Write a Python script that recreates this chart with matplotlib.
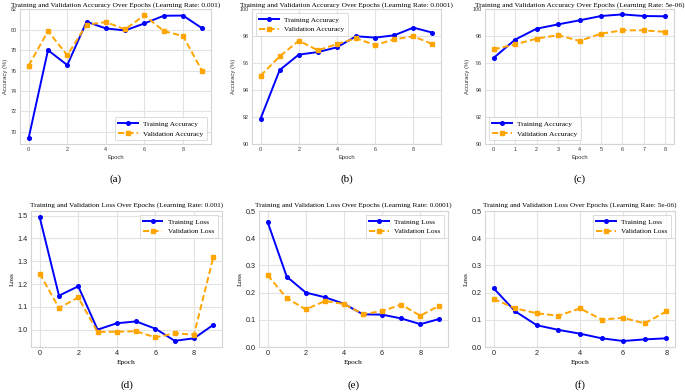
import matplotlib
matplotlib.use("Agg")
import matplotlib.pyplot as plt

# ---------------- data ----------------
epochs10 = list(range(10))
epochs9 = list(range(9))

acc_a_train = [69.41, 78.0, 76.54, 80.78, 80.13, 79.93, 80.62, 81.37, 81.39, 80.13]
acc_a_val = [76.49, 79.87, 77.5, 80.49, 80.75, 80.03, 81.43, 79.87, 79.38, 75.93]

acc_b_train = [91.88, 95.48, 96.62, 96.81, 97.16, 97.98, 97.88, 98.05, 98.62, 98.25]
acc_b_val = [95.06, 96.49, 97.65, 96.94, 97.4, 97.83, 97.33, 97.75, 97.98, 97.4]

acc_c_train = [96.37, 97.73, 98.54, 98.86, 99.16, 99.48, 99.6, 99.48, 99.46]
acc_c_val = [97.01, 97.38, 97.8, 98.07, 97.63, 98.17, 98.42, 98.42, 98.3]

loss_d_train = [1.493, 1.149, 1.19, 1.0, 1.028, 1.036, 1.004, 0.951, 0.962, 1.021]
loss_d_val = [1.246, 1.095, 1.141, 0.99, 0.991, 0.993, 0.966, 0.984, 0.978, 1.318]

loss_e_train = [0.46, 0.259, 0.2, 0.183, 0.159, 0.12, 0.119, 0.105, 0.084, 0.103]
loss_e_val = [0.264, 0.18, 0.138, 0.169, 0.158, 0.121, 0.132, 0.156, 0.115, 0.152]

loss_f_train = [0.216, 0.131, 0.08, 0.063, 0.049, 0.032, 0.022, 0.028, 0.032]
loss_f_val = [0.177, 0.142, 0.124, 0.115, 0.142, 0.101, 0.107, 0.087, 0.131]

lrs = ["0.001", "0.0001", "5e-06"]
panel_letters = ["(a)", "(b)", "(c)", "(d)", "(e)", "(f)"]

# ---------------- figure ----------------
W, H = 685, 392
fig = plt.figure(figsize=(W / 100, H / 100), dpi=100)
fig.patch.set_facecolor("white")

SERIF = ["Liberation Serif", "DejaVu Serif"]
SANS = ["Liberation Sans", "DejaVu Sans"]
GRID = "#e3e3e3"
SPINE = "#d5d5d5"
BLUE = "blue"
ORANGE = "#FFA500"


def px_axes(l, t, r, b):
    return fig.add_axes([l / W, 1 - b / H, (r - l) / W, (b - t) / H])


def style(ax, tick_fs, tick_family, tick_color):
    ax.set_facecolor("white")
    ax.grid(True, color=GRID, linewidth=0.8)
    ax.set_axisbelow(True)
    for s in ax.spines.values():
        s.set_color(SPINE)
        s.set_linewidth(0.8)
    ax.tick_params(axis="both", length=0, labelsize=tick_fs, colors=tick_color, pad=2.5)
    for lab in ax.get_xticklabels() + ax.get_yticklabels():
        lab.set_family(tick_family)


top_boxes = [(20, 9, 211, 144), (252, 9, 441, 144), (485, 9, 674, 144)]
bot_boxes = [(31, 211, 222, 347), (259, 211, 448, 347), (485, 211, 675, 347)]

acc_data = [(epochs10, acc_a_train, acc_a_val), (epochs10, acc_b_train, acc_b_val),
            (epochs9, acc_c_train, acc_c_val)]
loss_data = [(epochs10, loss_d_train, loss_d_val), (epochs10, loss_e_train, loss_e_val),
             (epochs9, loss_f_train, loss_f_val)]
acc_legend_loc = ["lower right", "upper left", "lower left"]

for i, (box, (ep, tr, va)) in enumerate(zip(top_boxes, acc_data)):
    ax = px_axes(*box)
    ax.plot(ep, tr, color=BLUE, marker="o", markersize=2.6, linewidth=1.4,
            label="Training Accuracy")
    ax.plot(ep, va, color=ORANGE, marker="s", markersize=2.6, linewidth=1.4,
            linestyle="--", dashes=(3.2, 1.6), label="Validation Accuracy")
    if i == 2:
        ax.set_xticks(ep)
    else:
        ax.set_xticks([0, 2, 4, 6, 8])
    if i == 0:
        ax.set_yticks([70, 72, 74, 76, 78, 80, 82])
    else:
        ax.set_ylim(90, 100)
        ax.set_yticks([90, 92, 94, 96, 98, 100])
    style(ax, 3.9, SANS, "#333333")
    ax.set_xlabel("Epoch", fontsize=4.2, family=SANS, color="#333333", labelpad=2)
    ax.set_ylabel("Accuracy (%)", fontsize=4.2, family=SANS, color="#333333", labelpad=2)
    ax.set_title(f"Training and Validation Accuracy Over Epochs (Learning Rate: {lrs[i]})",
                 fontsize=5.3, family=SERIF, pad=2)
    leg = ax.legend(loc=acc_legend_loc[i], prop={"family": SERIF, "size": 5.3},
                    frameon=True, fancybox=True, handlelength=2.6, borderpad=0.5,
                    labelspacing=0.5)
    leg.get_frame().set_edgecolor("#cccccc")
    leg.get_frame().set_linewidth(0.6)
    cx = (box[0] + box[2]) / 2
    fig.text(cx / W, 1 - 179 / H, panel_letters[i], ha="center", va="center",
             fontsize=8, family=SERIF)

for i, (box, (ep, tr, va)) in enumerate(zip(bot_boxes, loss_data)):
    ax = px_axes(*box)
    ax.plot(ep, tr, color=BLUE, marker="o", markersize=2.6, linewidth=1.4,
            label="Training Loss")
    ax.plot(ep, va, color=ORANGE, marker="s", markersize=2.6, linewidth=1.4,
            linestyle="--", dashes=(3.2, 1.6), label="Validation Loss")
    ax.set_xticks([0, 2, 4, 6, 8])
    if i == 0:
        ax.set_yticks([1.0, 1.1, 1.2, 1.3, 1.4, 1.5])
    else:
        ax.set_ylim(0, 0.5)
        ax.set_yticks([0.0, 0.1, 0.2, 0.3, 0.4, 0.5])
    style(ax, 5.2, SANS, "#222222")
    ax.set_xlabel("Epoch", fontsize=5.3, family=SERIF, labelpad=1.5)
    ax.set_ylabel("Loss", fontsize=5.3, family=SERIF, labelpad=2)
    ax.set_title(f"Training and Validation Loss Over Epochs (Learning Rate: {lrs[i]})",
                 fontsize=5.2, family=SERIF, pad=3)
    leg = ax.legend(loc="upper right", prop={"family": SERIF, "size": 5.3},
                    frameon=True, fancybox=False, handlelength=2.6, borderpad=0.5,
                    labelspacing=0.5)
    leg.get_frame().set_edgecolor("#cccccc")
    leg.get_frame().set_linewidth(0.6)
    cx = (box[0] + box[2]) / 2
    fig.text(cx / W, 1 - 385 / H, panel_letters[3 + i], ha="center", va="center",
             fontsize=8, family=SERIF)

fig.savefig("out.png", dpi=100, facecolor="white")
